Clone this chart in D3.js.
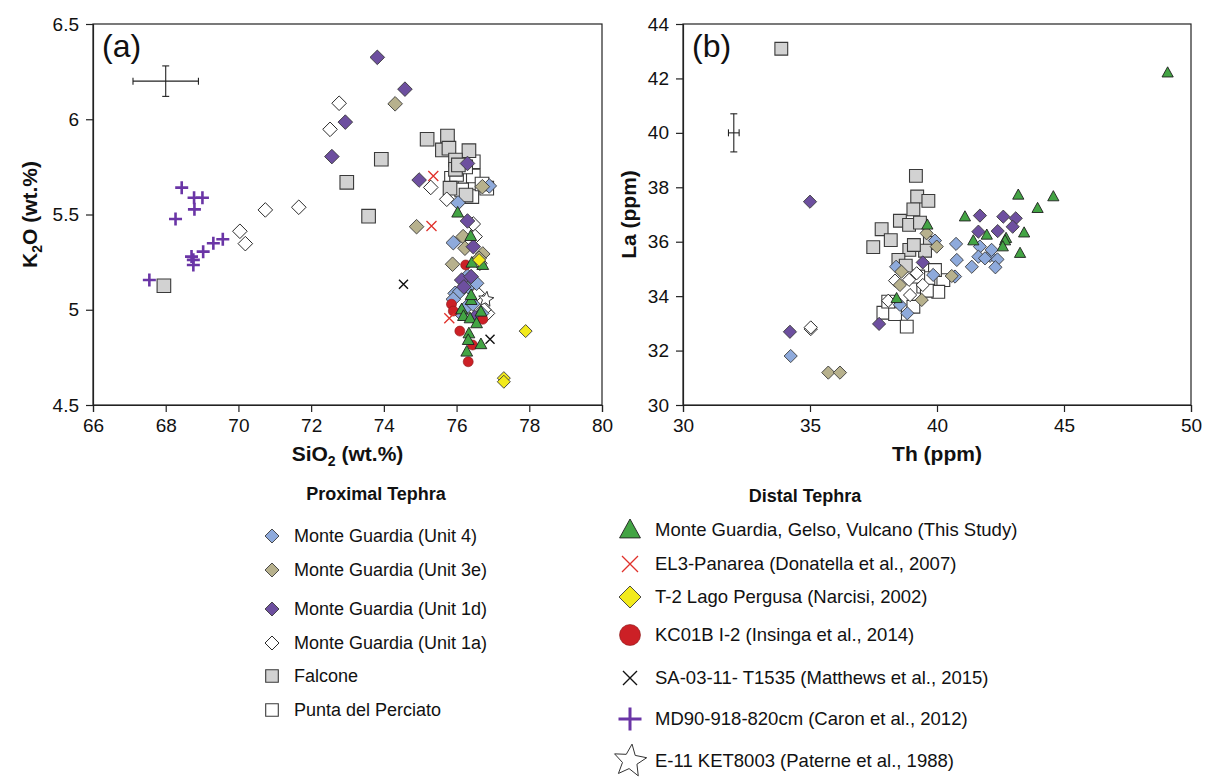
<!DOCTYPE html>
<html>
<head>
<meta charset="utf-8">
<script src="https://cdn.jsdelivr.net/npm/d3@7"></script>
<style>
  body { margin: 0; background: #fff; }
  svg { font-family: "Liberation Sans", Arial, sans-serif; }
</style>
</head>
<body>
<div id="chart"></div>
<script>
// ---- data: panel (a) SiO2 vs K2O ----
const unit4A = [[76.04,5.561],[76.90,5.650],[75.91,5.352],[75.96,5.086],[76.09,5.095],[76.32,5.121],[76.55,5.139],[75.91,5.055],[76.28,5.016],[76.45,5.03],[76.69,4.981],[76.12,4.98],[76.30,5.177]];
const unit3eA = [[74.31,6.081],[74.90,5.436],[76.71,5.646],[76.18,5.384],[76.23,5.323],[76.72,5.293],[75.89,5.239],[76.62,5.27]];
const unit1dA = [[73.82,6.325],[74.58,6.158],[72.94,5.985],[72.57,5.804],[74.97,5.681],[76.30,5.768],[76.30,5.466],[76.46,5.331],[76.14,5.156],[76.40,5.174],[76.20,5.12],[76.50,4.96]];
const unit1aA = [[70.04,5.412],[70.19,5.347],[70.74,5.524],[71.66,5.538],[72.52,5.947],[72.77,6.084],[75.29,5.642],[75.73,5.580],[76.46,5.450],[76.51,5.384],[76.64,5.244],[76.85,4.981],[76.57,5.086],[76.75,5.00]];
const falconeA = [[67.95,5.126],[72.98,5.669],[73.58,5.491],[73.93,5.790],[75.19,5.895],[75.75,5.912],[75.61,5.839],[75.79,5.848],[76.34,5.835],[75.97,5.786],[75.97,5.737],[75.82,5.638],[76.26,5.602],[76.05,5.76]];
const percA = [[76.46,5.777],[76.46,5.702],[76.83,5.638],[75.86,5.690],[76.14,5.629],[76.42,5.594],[76.70,5.66],[76.00,5.71],[76.25,5.75]];
const thisStudyA = [[76.03,5.510],[76.39,5.387],[76.42,5.247],[76.72,5.235],[76.40,5.051],[76.40,5.077],[76.14,5.002],[76.19,4.967],[76.37,4.955],[76.67,4.990],[76.55,4.929],[76.34,4.876],[76.32,4.841],[76.67,4.819],[76.28,4.780]];
const el3A = [[75.36,5.702],[75.31,5.440],[75.80,4.955]];
const pergusaA = [[76.62,5.261],[77.90,4.888],[77.30,4.641],[77.30,4.622]];
const kc01bA = [[76.25,5.235],[75.86,5.029],[75.91,4.993],[76.09,4.888],[76.44,4.815],[76.32,4.727],[76.72,4.950]];
const sa0311A = [[74.54,5.134],[76.92,4.845]];
const md90A = [[67.55,5.156],[68.27,5.476],[68.44,5.641],[68.78,5.588],[69.01,5.588],[68.79,5.527],[68.71,5.279],[68.76,5.262],[68.76,5.235],[69.03,5.305],[69.31,5.349],[69.57,5.370]];
const e11A = [[76.81,5.055]];

// ---- data: panel (b) Th vs La ----
const unit4B = [[34.24,31.80],[40.75,35.92],[40.78,35.33],[41.37,35.08],[41.69,35.82],[41.63,35.45],[42.09,35.48],[42.15,35.70],[41.89,35.39],[42.38,35.35],[42.30,35.06],[39.85,34.78],[40.71,34.72],[38.83,33.37],[38.54,33.68],[39.92,36.04],[38.39,35.08]];
const unit3eB = [[35.72,31.19],[36.18,31.19],[39.59,36.31],[39.99,35.82],[40.58,34.74],[38.54,34.41],[39.40,33.86],[38.60,34.90]];
const unit1dB = [[35.00,37.47],[34.21,32.69],[37.72,32.98],[39.44,35.24],[41.69,36.96],[41.63,36.37],[42.61,36.92],[42.39,36.39],[43.10,36.86],[42.98,36.55]];
const unit1aB = [[35.03,32.79],[35.03,32.85],[38.35,34.57],[38.94,34.04],[39.20,34.84],[39.44,34.41],[38.08,33.83],[38.90,34.60]];
const falconeB = [[33.87,43.09],[39.17,38.42],[39.22,37.66],[39.66,37.50],[39.07,37.19],[38.54,36.77],[38.90,36.62],[37.82,36.46],[38.18,36.06],[37.49,35.80],[39.33,36.70],[39.72,35.96],[39.53,35.67],[38.91,35.70],[39.09,35.88],[38.48,35.33],[38.77,35.12]];
const percB = [[40.25,34.59],[40.05,34.16],[39.92,34.96],[37.89,33.39],[38.35,33.34],[38.81,32.88],[39.07,33.61],[39.46,34.35],[39.66,34.66],[38.08,33.80],[39.26,34.72],[39.60,34.20]];
const thisStudyB = [[49.08,42.21],[43.20,37.72],[44.58,37.66],[43.96,37.23],[41.10,36.92],[43.43,36.33],[41.43,36.04],[41.96,36.25],[42.72,36.13],[42.68,36.04],[42.59,35.82],[43.27,35.58],[39.62,36.62],[38.41,33.92]];

// error bars [x, y, dx, dy]
const errA = [68.0, 6.2, 0.9, 0.08];
const errB = [32.0, 40.0, 0.21, 0.7];

const ticksA_x = [66, 68, 70, 72, 74, 76, 78, 80];
const ticksA_y = [4.5, 5, 5.5, 6, 6.5];
const ticksB_x = [30, 35, 40, 45, 50];
const ticksB_y = [30, 32, 34, 36, 38, 40, 42, 44];

const proximalLabels = ["Monte Guardia (Unit 4)", "Monte Guardia (Unit 3e)", "Monte Guardia (Unit 1d)", "Monte Guardia (Unit 1a)", "Falcone", "Punta del Perciato"];
const distalLabels = ["Monte Guardia, Gelso, Vulcano (This Study)", "EL3-Panarea (Donatella et al., 2007)", "T-2 Lago Pergusa (Narcisi, 2002)", "KC01B I-2 (Insinga et al., 2014)", "SA-03-11- T1535 (Matthews et al., 2015)", "MD90-918-820cm (Caron et al., 2012)", "E-11 KET8003 (Paterne et al., 1988)"];

// ---- custom symbol shapes (size = half width in px) ----
const shapes = {
  diamond: { draw(c, s) { c.moveTo(0, -s); c.lineTo(s, 0); c.lineTo(0, s); c.lineTo(-s, 0); c.closePath(); } },
  square: { draw(c, s) { c.rect(-s, -s, 2 * s, 2 * s); } },
  triangle: { draw(c, s) { c.moveTo(0, -s); c.lineTo(s * 0.95, s * 0.72); c.lineTo(-s * 0.95, s * 0.72); c.closePath(); } },
  circle: { draw(c, s) { c.moveTo(s, 0); c.arc(0, 0, s, 0, 2 * Math.PI); } },
  x: { draw(c, s) { c.moveTo(-s, -s); c.lineTo(s, s); c.moveTo(s, -s); c.lineTo(-s, s); } },
  plus: { draw(c, s) { c.moveTo(-s, 0); c.lineTo(s, 0); c.moveTo(0, -s); c.lineTo(0, s); } },
  star: { draw(c, s) {
    for (let i = 0; i < 10; i++) {
      const r = i % 2 === 0 ? s : s * 0.45;
      const a = -Math.PI / 2 + i * Math.PI / 5 + 0.12;
      const px = r * Math.cos(a), py = r * Math.sin(a);
      if (i === 0) c.moveTo(px, py); else c.lineTo(px, py);
    }
    c.closePath();
  } }
};

const styles = {
  unit4:   { shape: "diamond", fill: "#8eaadc", stroke: "#3a3a3a", sw: 0.9 },
  unit3e:  { shape: "diamond", fill: "#b7b18d", stroke: "#3a3a3a", sw: 0.9 },
  unit1d:  { shape: "diamond", fill: "#6d4f9f", stroke: "#3a3a3a", sw: 0.9 },
  unit1a:  { shape: "diamond", fill: "#ffffff", stroke: "#2a2a2a", sw: 1 },
  falcone: { shape: "square", fill: "#d2d2d2", stroke: "#3a3a3a", sw: 1.1 },
  perc:    { shape: "square", fill: "#ffffff", stroke: "#3a3a3a", sw: 1.1 },
  thisStudy: { shape: "triangle", fill: "#43a444", stroke: "#1f1f1f", sw: 0.9 },
  el3:     { shape: "x", fill: "none", stroke: "#e0312b", sw: 1.3 },
  pergusa: { shape: "diamond", fill: "#f2ea1c", stroke: "#3a3a3a", sw: 0.9 },
  kc01b:   { shape: "circle", fill: "#cc2026", stroke: "#8a1a1a", sw: 0.6 },
  sa0311:  { shape: "x", fill: "none", stroke: "#111", sw: 1.4 },
  md90:    { shape: "plus", fill: "none", stroke: "#6a35a6", sw: 2.6 },
  e11:     { shape: "star", fill: "#ffffff", stroke: "#333", sw: 1 }
};

const sizesA = { unit4: 7.3, unit3e: 7.3, unit1d: 7.3, unit1a: 7.3, falcone: 6.8, perc: 6.8, thisStudy: 6.2, el3: 5, pergusa: 6.5, kc01b: 5, sa0311: 4.5, md90: 6.5, e11: 8 };
const sizesB = { unit4: 6.6, unit3e: 6.6, unit1d: 6.6, unit1a: 6.6, falcone: 6.4, perc: 6.4, thisStudy: 5.9 };

const svg = d3.select("#chart").append("svg")
  .attr("width", 1209)
  .attr("height", 778);

function drawPanel(opt) {
  const x = d3.scaleLinear().domain(opt.xDomain).range([opt.left, opt.right]);
  const y = d3.scaleLinear().domain(opt.yDomain).range([opt.bottom, opt.top]);
  const g = svg.append("g");

  // frame
  g.append("rect")
    .attr("x", opt.left).attr("y", opt.top)
    .attr("width", opt.right - opt.left).attr("height", opt.bottom - opt.top)
    .attr("fill", "none").attr("stroke", "#222").attr("stroke-width", 1.2);

  const xAxis = g.append("g")
    .attr("transform", "translate(0," + opt.bottom + ")")
    .call(d3.axisBottom(x).tickValues(opt.xTicks).tickSize(7).tickPadding(7).tickFormat(d3.format("d")));
  const yAxis = g.append("g")
    .attr("transform", "translate(" + opt.left + ",0)")
    .call(d3.axisLeft(y).tickValues(opt.yTicks).tickSize(7).tickPadding(7).tickFormat(d => String(d)));
  [xAxis, yAxis].forEach(a => {
    a.select(".domain").attr("stroke", "#222").attr("stroke-width", 1.2);
    a.selectAll(".tick line").attr("stroke", "#222").attr("stroke-width", 1.2);
    a.selectAll("text").attr("font-size", 19).attr("fill", "#111")
      .attr("font-family", "'Liberation Sans', Arial, sans-serif");
  });

  // error bar
  const e = opt.err;
  const eb = g.append("g").attr("stroke", "#222").attr("stroke-width", 1.1);
  eb.append("line").attr("x1", x(e[0] - e[2])).attr("x2", x(e[0] + e[2])).attr("y1", y(e[1])).attr("y2", y(e[1]));
  eb.append("line").attr("x1", x(e[0])).attr("x2", x(e[0])).attr("y1", y(e[1] - e[3])).attr("y2", y(e[1] + e[3]));
  eb.append("line").attr("x1", x(e[0] - e[2])).attr("x2", x(e[0] - e[2])).attr("y1", y(e[1]) - 3.5).attr("y2", y(e[1]) + 3.5);
  eb.append("line").attr("x1", x(e[0] + e[2])).attr("x2", x(e[0] + e[2])).attr("y1", y(e[1]) - 3.5).attr("y2", y(e[1]) + 3.5);
  eb.append("line").attr("x1", x(e[0]) - 3.5).attr("x2", x(e[0]) + 3.5).attr("y1", y(e[1] - e[3])).attr("y2", y(e[1] - e[3]));
  eb.append("line").attr("x1", x(e[0]) - 3.5).attr("x2", x(e[0]) + 3.5).attr("y1", y(e[1] + e[3])).attr("y2", y(e[1] + e[3]));

  // points
  opt.series.forEach(s => {
    const st = styles[s.key];
    const sym = d3.symbol().type(shapes[st.shape]).size(opt.sizes[s.key]);
    g.append("g").selectAll("path")
      .data(s.data)
      .join("path")
      .attr("transform", d => "translate(" + x(d[0]) + "," + y(d[1]) + ")")
      .attr("d", sym)
      .attr("fill", st.fill)
      .attr("stroke", st.stroke)
      .attr("stroke-width", st.sw);
  });

  // panel label
  g.append("text").attr("x", opt.left + 9).attr("y", opt.top + 33)
    .attr("font-size", 32).attr("fill", "#111").text(opt.tag);

  // axis titles
  const xt = g.append("text")
    .attr("x", (opt.left + opt.right) / 2).attr("y", 461)
    .attr("text-anchor", "middle").attr("font-size", 21).attr("font-weight", "bold").attr("fill", "#111");
  opt.xTitle(xt);
  const yt = g.append("text")
    .attr("transform", "translate(" + (opt.left - opt.yTitleOff) + "," + ((opt.top + opt.bottom) / 2) + ") rotate(-90)")
    .attr("text-anchor", "middle").attr("font-size", 21).attr("font-weight", "bold").attr("fill", "#111");
  opt.yTitle(yt);
}

drawPanel({
  left: 93, right: 602, top: 24, bottom: 405, yTitleOff: 56,
  xDomain: [66, 80], yDomain: [4.5, 6.5],
  xTicks: ticksA_x, yTicks: ticksA_y, err: errA, tag: "(a)", sizes: sizesA,
  series: [
    { key: "perc", data: percA }, { key: "falcone", data: falconeA },
    { key: "unit1a", data: unit1aA }, { key: "unit4", data: unit4A },
    { key: "unit3e", data: unit3eA }, { key: "unit1d", data: unit1dA },
    { key: "kc01b", data: kc01bA }, { key: "e11", data: e11A },
    { key: "thisStudy", data: thisStudyA }, { key: "pergusa", data: pergusaA },
    { key: "el3", data: el3A }, { key: "sa0311", data: sa0311A }, { key: "md90", data: md90A }
  ],
  xTitle: t => { t.append("tspan").text("SiO"); t.append("tspan").attr("font-size", 14).attr("dy", 5).text("2"); t.append("tspan").attr("dy", -5).text(" (wt.%)"); },
  yTitle: t => { t.append("tspan").text("K"); t.append("tspan").attr("font-size", 14).attr("dy", 5).text("2"); t.append("tspan").attr("dy", -5).text("O (wt.%)"); }
});

drawPanel({
  left: 683, right: 1191, top: 24, bottom: 405, yTitleOff: 47,
  xDomain: [30, 50], yDomain: [30, 44],
  xTicks: ticksB_x, yTicks: ticksB_y, err: errB, tag: "(b)", sizes: sizesB,
  series: [
    { key: "perc", data: percB }, { key: "falcone", data: falconeB },
    { key: "unit1a", data: unit1aB }, { key: "unit4", data: unit4B },
    { key: "unit3e", data: unit3eB }, { key: "unit1d", data: unit1dB },
    { key: "thisStudy", data: thisStudyB }
  ],
  xTitle: t => t.text("Th (ppm)"),
  yTitle: t => t.text("La (ppm)")
});

// ---- legends ----
const proxKeys = ["unit4", "unit3e", "unit1d", "unit1a", "falcone", "perc"];
const proxY = [536, 570, 609, 643, 676, 710];
const distKeys = ["thisStudy", "el3", "pergusa", "kc01b", "sa0311", "md90", "e11"];
const distY = [530, 564, 597, 635, 678, 719, 761];
const legSizeProx = { unit4: 7, unit3e: 7, unit1d: 7, unit1a: 7, falcone: 6.3, perc: 6.3 };
const legSizeDist = { thisStudy: 11, el3: 8, pergusa: 11, kc01b: 10.5, sa0311: 7, md90: 11.5, e11: 17 };

const leg = svg.append("g").attr("fill", "#111");
leg.append("text").attr("x", 376).attr("y", 500).attr("text-anchor", "middle")
  .attr("font-size", 18).attr("font-weight", "bold").text("Proximal Tephra");
leg.append("text").attr("x", 805).attr("y", 502).attr("text-anchor", "middle")
  .attr("font-size", 18).attr("font-weight", "bold").text("Distal Tephra");

function legendRows(keys, labels, ys, sizes, mx, tx, fs) {
  keys.forEach((k, i) => {
    const st = styles[k];
    leg.append("path")
      .attr("transform", "translate(" + mx + "," + ys[i] + ")")
      .attr("d", d3.symbol().type(shapes[st.shape]).size(sizes[k])())
      .attr("fill", st.fill).attr("stroke", st.stroke)
      .attr("stroke-width", k === "md90" ? 3 : st.sw);
    leg.append("text").attr("x", tx).attr("y", ys[i]).attr("dy", "0.35em")
      .attr("font-size", fs).text(labels[i]);
  });
}
legendRows(proxKeys, proximalLabels, proxY, legSizeProx, 272, 294, 18);
legendRows(distKeys, distalLabels, distY, legSizeDist, 630, 655, 18.5);
</script>
</body>
</html>
